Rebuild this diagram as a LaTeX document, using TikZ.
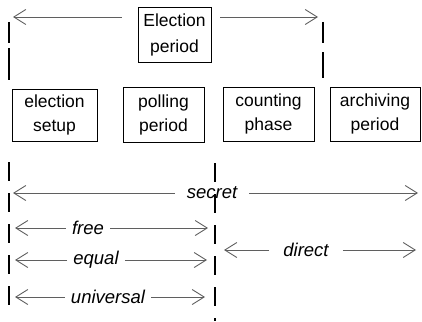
\documentclass[tikz,border=0pt]{standalone}
\usepackage{fontspec}
\setmainfont{Liberation Sans}
\usetikzlibrary{arrows.meta}
\definecolor{spangray}{RGB}{95,95,95}
\begin{document}
\begin{tikzpicture}[x=1pt,y=-1pt,
  box/.style={draw,rectangle,align=center,inner sep=0pt,font=\fontsize{17.5}{24}\selectfont},
  span/.style={draw=spangray,line width=0.9pt,{Straight Barb[length=12pt,width=15pt]}-{Straight Barb[length=12pt,width=15pt]}},
  half/.style={draw=spangray,line width=0.9pt,-{Straight Barb[length=12pt,width=15pt]}},
  lbl/.style={inner xsep=6pt,inner ysep=1pt,font=\fontsize{18.5}{20}\selectfont\itshape},
  limit/.style={line width=1.6pt,dash pattern=on 19pt off 12pt}]
\useasboundingbox (0,0) rectangle (422,321);
\node[box,minimum width=73pt,minimum height=55pt,font=\fontsize{17.5}{26}\selectfont] (ep) at (174.5,34.5) {Election\\period};
\coordinate (epL) at (13,17);\coordinate (epR) at (318,17);
\draw[half,shorten <=16pt] (ep.west |- epL) -- (epL);
\draw[half,shorten <=9pt] (ep.east |- epR) -- (epR);
\draw[line width=1.6pt] (9,22) -- (9,43) (9,48) -- (9,80);
\draw[line width=1.6pt] (323,22) -- (323,43) (323,52) -- (323,78);
\node[box,minimum width=85pt,minimum height=52pt] (setup) at (54.5,115) {election\\setup};
\node[box,minimum width=81pt,minimum height=55pt] (poll) at (163.5,114.5) {polling\\period};
\node[box,minimum width=91pt,minimum height=54pt] (count) at (268.5,114) {counting\\phase};
\node[box,minimum width=90pt,minimum height=54pt] (arch) at (375,114) {archiving\\period};
\coordinate (l1) at (9,162);\coordinate (l2) at (9,313);
\coordinate (m1) at (215,163);\coordinate (m2) at (215,321);
\draw[limit] (l1) -- (l2);
\draw[limit] (m1) -- (m2);
\node[lbl,inner xsep=12pt] (secret) at (212,193) {secret};
\node[lbl] (free) at (88,228) {free};
\node[lbl] (equal) at (96,260) {equal};
\node[lbl] (univ) at (108,297) {universal};
\node[lbl,inner xsep=14pt] (direct) at (306,250) {direct};
\coordinate (secretL) at (13,193);\coordinate (secretR) at (418,193);
\coordinate (freeL) at (15,228);\coordinate (freeR) at (208,228);
\coordinate (equalL) at (15,260);\coordinate (equalR) at (207,260);
\coordinate (univL) at (15,297);\coordinate (univR) at (205,297);
\coordinate (directL) at (224,250);\coordinate (directR) at (416,250);
\foreach \t in {secret,free,equal,univ,direct}{
  \draw[half] (\t.west) -- (\t L);
  \draw[half] (\t.east) -- (\t R);}
\end{tikzpicture}
\end{document}
